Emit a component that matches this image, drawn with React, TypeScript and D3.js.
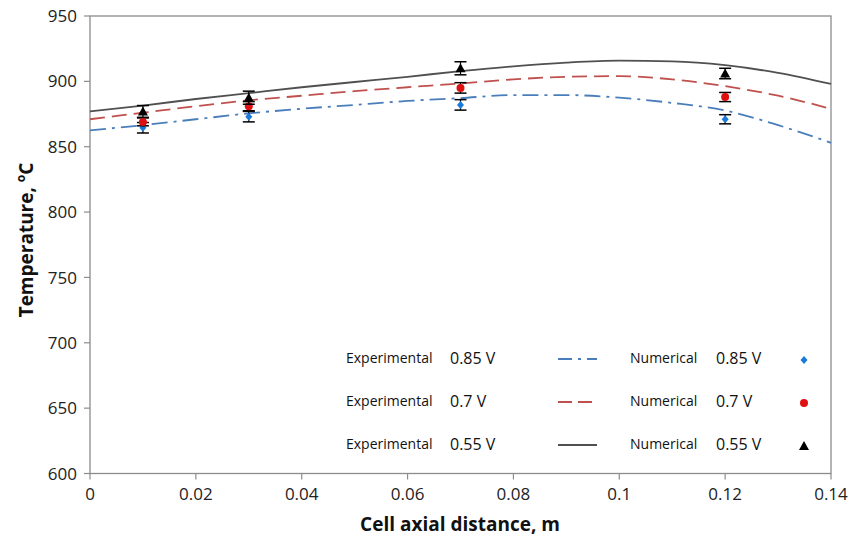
import React from "react";
import * as d3 from "d3";

const xTicks = [0, 0.02, 0.04, 0.06, 0.08, 0.1, 0.12, 0.14];
const xTickLabels = ["0", "0.02", "0.04", "0.06", "0.08", "0.1", "0.12", "0.14"];
const yTicks = [600, 650, 700, 750, 800, 850, 900, 950];

const lineX = [0, 0.01, 0.02, 0.03, 0.04, 0.05, 0.06, 0.07, 0.08, 0.09, 0.1, 0.11, 0.12, 0.13, 0.14];
const line085 = [862.5, 866.5, 871, 875.5, 879, 882, 885, 887.2, 889.5, 889.5, 887.5, 883.5, 877.7, 866.5, 853];
const line07 = [871, 876, 881, 885.5, 889, 892.5, 895.5, 898.4, 901.5, 903.5, 904, 901.5, 896.3, 889, 879];
const line055 = [877, 881.5, 886.5, 891, 895.5, 899.5, 903.5, 907.8, 911.5, 914.3, 915.8, 915.3, 912.4, 906.5, 898];

const expX = [0.01, 0.03, 0.07, 0.12];
const exp085 = [864.5, 873, 882, 871];
const exp07 = [869, 881, 895, 888];
const exp055 = [877, 887.5, 910, 906];
const err085 = [4, 4, 4, 3.5];
const err07 = [3, 3.5, 4, 3.5];
const err055 = [4.5, 5, 5, 4];

const legendVolt = ["0.85 V", "0.7 V", "0.55 V"];

const W = 860, H = 541;
const L = 90, R = 831, T = 16, B = 473.5;

export default function App() {
  const x = d3.scaleLinear().domain([0, 0.14]).range([L, R]);
  const y = d3.scaleLinear().domain([600, 950]).range([B, T]);
  const mk = (vals: number[]) =>
    d3.line<number>().x((_, i) => x(lineX[i])).y((v) => y(v)).curve(d3.curveMonotoneX)(vals) || "";

  const font = "'Open Sans', 'Liberation Sans', sans-serif";
  const axisColor = "#8c8c8c";
  const blue = "#4a7ebb";
  const red = "#c0504d";
  const blk = "#505050";

  const series = [
    { vals: line085, pts: exp085, err: err085, color: blue, dash: "16,6,3,6", mColor: "#1a7ad8", marker: "diamond" },
    { vals: line07, pts: exp07, err: err07, color: red, dash: "15,7", mColor: "#e01010", marker: "circle" },
    { vals: line055, pts: exp055, err: err055, color: blk, dash: "", mColor: "#000", marker: "triangle" },
  ];

  const marker = (m: string, cx: number, cy: number, c: string, key: string) => {
    if (m === "diamond")
      return <path key={key} d={`M${cx},${cy - 4}L${cx + 3.5},${cy}L${cx},${cy + 4}L${cx - 3.5},${cy}Z`} fill={c} />;
    if (m === "circle") return <circle key={key} cx={cx} cy={cy} r={4} fill={c} />;
    return <path key={key} d={`M${cx},${cy - 5}L${cx + 5},${cy + 4}L${cx - 5},${cy + 4}Z`} fill={c} />;
  };

  const legendRows = [359, 402, 445];

  return (
    <svg width={W} height={H} style={{ position: "absolute", left: 0, top: 0, background: "#fff" }} fontFamily={font}>
      <rect x={0} y={0} width={W} height={H} fill="#fff" />
      {/* plot border */}
      <rect x={L} y={T} width={R - L} height={B - T} fill="none" stroke={axisColor} strokeWidth={1.3} />
      {/* y ticks */}
      {yTicks.map((t) => (
        <g key={"y" + t}>
          <line x1={L - 6} x2={L} y1={y(t)} y2={y(t)} stroke={axisColor} strokeWidth={1.2} />
          <text x={77} y={y(t)} dy="0.36em" textAnchor="end" fontSize={17} fill="#222">{t}</text>
        </g>
      ))}
      {/* x ticks */}
      {xTicks.map((t, i) => (
        <g key={"x" + t}>
          <line x1={x(t)} x2={x(t)} y1={B} y2={B + 6} stroke={axisColor} strokeWidth={1.2} />
          <text x={x(t)} y={500} textAnchor="middle" fontSize={17} fill="#222">{xTickLabels[i]}</text>
        </g>
      ))}
      {/* axis titles */}
      <text x={460} y={531} textAnchor="middle" fontSize={19} fontWeight="bold" fill="#111">Cell axial distance, m</text>
      <text transform="translate(33,240) rotate(-90)" textAnchor="middle" fontSize={19} fontWeight="bold" fill="#111">
        Temperature, <tspan fontSize={12} dy={-8}>o</tspan><tspan dy={8}>C</tspan>
      </text>
      {/* lines */}
      {series.map((s, i) => (
        <path key={"l" + i} d={mk(s.vals)} fill="none" stroke={s.color} strokeWidth={1.8} strokeDasharray={s.dash || undefined} />
      ))}
      {/* error bars and markers */}
      {series.map((s, i) =>
        s.pts.map((v, j) => {
          const cx = x(expX[j]);
          const y1 = y(v + s.err[j]);
          const y2 = y(v - s.err[j]);
          return (
            <g key={`e${i}-${j}`}>
              <line x1={cx} x2={cx} y1={y1} y2={y2} stroke="#000" strokeWidth={1.2} />
              <line x1={cx - 6} x2={cx + 6} y1={y1} y2={y1} stroke="#000" strokeWidth={1.5} />
              <line x1={cx - 6} x2={cx + 6} y1={y2} y2={y2} stroke="#000" strokeWidth={1.5} />
              {marker(s.marker, cx, y(v), s.mColor, `m${i}-${j}`)}
            </g>
          );
        })
      )}
      {/* legend */}
      {series.map((s, i) => {
        const ly = legendRows[i];
        return (
          <g key={"lg" + i}>
            <text x={346} y={ly + 4} fontSize={14} fill="#111">Experimental</text>
            <text x={450} y={ly + 5} fontSize={16} fill="#111">{legendVolt[i]}</text>
            <line x1={558} x2={597} y1={ly} y2={ly} stroke={s.color} strokeWidth={1.8} strokeDasharray={s.dash ? (i === 0 ? "14,6,3,6" : "14,6") : undefined} />
            <text x={630} y={ly + 4} fontSize={14} fill="#111">Numerical</text>
            <text x={716} y={ly + 5} fontSize={16} fill="#111">{legendVolt[i]}</text>
            {marker(s.marker, 804, ly + 1, s.mColor, "lm" + i)}
          </g>
        );
      })}
    </svg>
  );
}
